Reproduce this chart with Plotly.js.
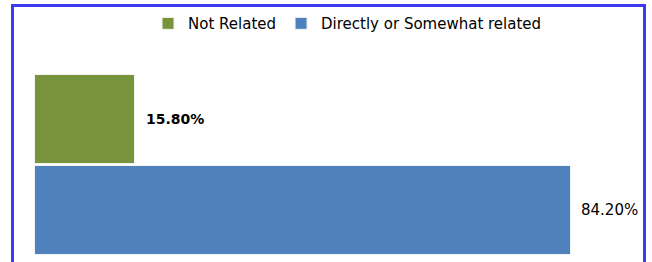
<!DOCTYPE html>
<html>
<head>
<meta charset="utf-8">
<script src="https://cdn.plot.ly/plotly-3.0.1.min.js"></script>
<style>
html,body{margin:0;padding:0;width:652px;height:262px;overflow:hidden;background:#fff;}
#chart{position:absolute;left:0;top:0;width:652px;height:262px;}
#frame{position:absolute;left:11px;top:4px;width:629px;height:300px;border:3px solid #3a3af5;pointer-events:none;box-sizing:content-box;}
</style>
</head>
<body>
<div id="chart"></div>
<div id="frame"></div>
<script>
const seriesNames = ["Not Related", "Directly or Somewhat related"];
const values = [15.8, 84.2];
const labels = ["15.80%", "84.20%"];
const colors = ["#77933c", "#4f81bd"];
const labelWeights = ["bold", "normal"];
const labelSizes = [14, 15];

const traces = seriesNames.map((name, i) => ({
  type: "bar",
  orientation: "h",
  name: name,
  x: [values[i]],
  y: [name],
  marker: {color: colors[i], line: {color: "#f4f4f4", width: 1}},
  hoverinfo: "skip"
}));

const annotations = seriesNames.map((name, i) => ({
  x: values[i],
  y: name,
  xref: "x",
  yref: "y",
  text: labelWeights[i] === "bold" ? "<b>" + labels[i] + "</b>" : labels[i],
  showarrow: false,
  xanchor: "left",
  yanchor: "middle",
  xshift: 9,
  font: {family: "DejaVu Sans", size: labelSizes[i], color: "#000"}
}));

const layout = {
  width: 652,
  height: 262,
  margin: {l: 34, r: 45, t: 73, b: 6},
  paper_bgcolor: "#fff",
  plot_bgcolor: "#fff",
  barmode: "stack",
  bargap: 0.022,
  showlegend: true,
  legend: {
    orientation: "h",
    x: 0.199,
    xanchor: "left",
    y: 1.27,
    yanchor: "middle",
    font: {family: "DejaVu Sans", size: 15, color: "#000"},
    traceorder: "normal"
  },
  xaxis: {range: [0, 90], visible: false, fixedrange: true},
  yaxis: {
    type: "category",
    categoryorder: "array",
    categoryarray: [seriesNames[1], seriesNames[0]],
    visible: false,
    fixedrange: true
  },
  annotations: annotations
};

Plotly.newPlot("chart", traces, layout, {displayModeBar: false, staticPlot: true});
</script>
</body>
</html>
